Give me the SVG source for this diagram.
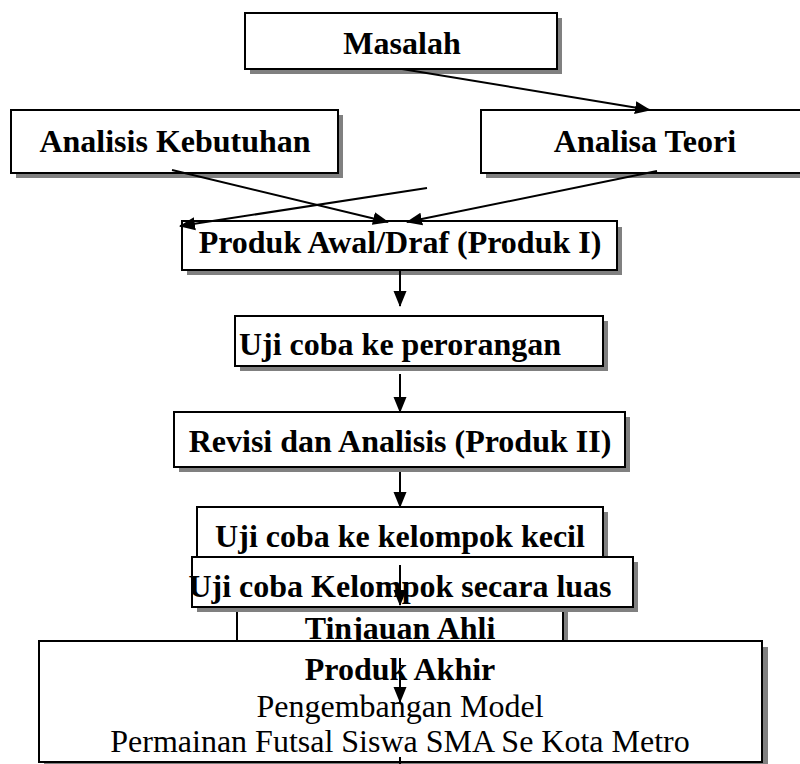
<svg xmlns="http://www.w3.org/2000/svg" width="800" height="764" viewBox="0 0 800 764">
<defs>
<style>
.sh{fill:#808080;stroke:none}
.bx{fill:#fff;stroke:#000;stroke-width:2}
.b{font-family:"Liberation Serif","Times New Roman",serif;font-size:32px;font-weight:bold;fill:#000;text-anchor:middle}
.r{font-family:"Liberation Serif","Times New Roman",serif;font-size:32px;fill:#000;text-anchor:middle}
.ln{stroke:#000;stroke-width:2;fill:none}
</style>
<marker id="ah" markerUnits="userSpaceOnUse" markerWidth="16" markerHeight="14" refX="15" refY="6.5" orient="auto" viewBox="0 0 16 13">
<path d="M0,0 L16,6.5 L0,13 z" fill="#000"/>
</marker>
</defs>
<rect width="800" height="764" fill="#fff"/>
<g id="masalah">
<rect class="sh" x="250" y="18" width="312" height="56"/>
<rect class="bx" x="245" y="13" width="312" height="56"/>
<text class="b" x="402" y="54">Masalah</text>
</g>
<g id="analisis-kebutuhan">
<rect class="sh" x="16" y="115" width="327" height="63"/>
<rect class="bx" x="11" y="110" width="327" height="63"/>
<text class="b" x="175" y="152">Analisis Kebutuhan</text>
</g>
<g id="analisa-teori">
<rect class="sh" x="486" y="115" width="330" height="63"/>
<rect class="bx" x="481" y="110" width="330" height="63"/>
<text class="b" x="645" y="152">Analisa Teori</text>
</g>
<g id="produk-awal">
<rect class="sh" x="187" y="227" width="435" height="48"/>
<rect class="bx" x="182" y="221" width="435" height="49"/>
<text class="b" x="400" y="253">Produk Awal/Draf (Produk I)</text>
</g>
<g id="uji-perorangan">
<rect class="sh" x="240" y="321" width="368" height="50"/>
<rect class="bx" x="235" y="316" width="368" height="50"/>
<text class="b" x="400" y="355">Uji coba ke perorangan</text>
</g>
<g id="revisi">
<rect class="sh" x="179" y="417" width="451" height="55"/>
<rect class="bx" x="174" y="412" width="451" height="55"/>
<text class="b" x="400" y="452">Revisi dan Analisis (Produk II)</text>
</g>
<g id="tinjauan-ahli">
<rect class="sh" x="242" y="600" width="326" height="50"/>
<rect class="bx" x="237" y="595" width="326" height="50"/>
<text class="b" x="400" y="639">Tinjauan Ahli</text>
</g>
<g id="uji-kelompok-kecil">
<rect class="sh" x="202" y="512" width="406" height="45"/>
<rect class="bx" x="197" y="507" width="406" height="50"/>
<text class="b" x="400" y="547">Uji coba ke kelompok kecil</text>
</g>
<g id="uji-kelompok-luas">
<rect class="sh" x="197" y="562" width="441" height="50"/>
<rect class="bx" x="192" y="557" width="441" height="50"/>
<text class="b" x="400" y="597">Uji coba Kelompok secara luas</text>
</g>
<g id="produk-akhir">
<rect class="sh" x="44" y="647" width="724" height="125"/>
<rect class="bx" x="39" y="641" width="723" height="121"/>
<text class="b" x="400" y="680">Produk Akhir</text>
<text class="r" x="400" y="717">Pengembangan Model</text>
<text class="r" x="400" y="752">Permainan Futsal Siswa SMA Se Kota Metro</text>
</g>
<g id="connectors">
<line class="ln" x1="402" y1="69" x2="650" y2="110" marker-end="url(#ah)"/>
<line class="ln" x1="172" y1="170" x2="388" y2="222" marker-end="url(#ah)"/>
<line class="ln" x1="657" y1="171" x2="407" y2="222" marker-end="url(#ah)"/>
<line class="ln" x1="427" y1="188" x2="180" y2="226" marker-end="url(#ah)"/>
<line class="ln" x1="400" y1="270" x2="400" y2="306" marker-end="url(#ah)"/>
<line class="ln" x1="400" y1="374" x2="400" y2="412" marker-end="url(#ah)"/>
<line class="ln" x1="400" y1="472" x2="400" y2="507" marker-end="url(#ah)"/>
<line class="ln" x1="400" y1="565" x2="400" y2="605" marker-end="url(#ah)"/>
<line class="ln" x1="400" y1="658" x2="400" y2="702" marker-end="url(#ah)"/>
<line class="ln" x1="400" y1="757" x2="400" y2="764"/>
</g>
</svg>
